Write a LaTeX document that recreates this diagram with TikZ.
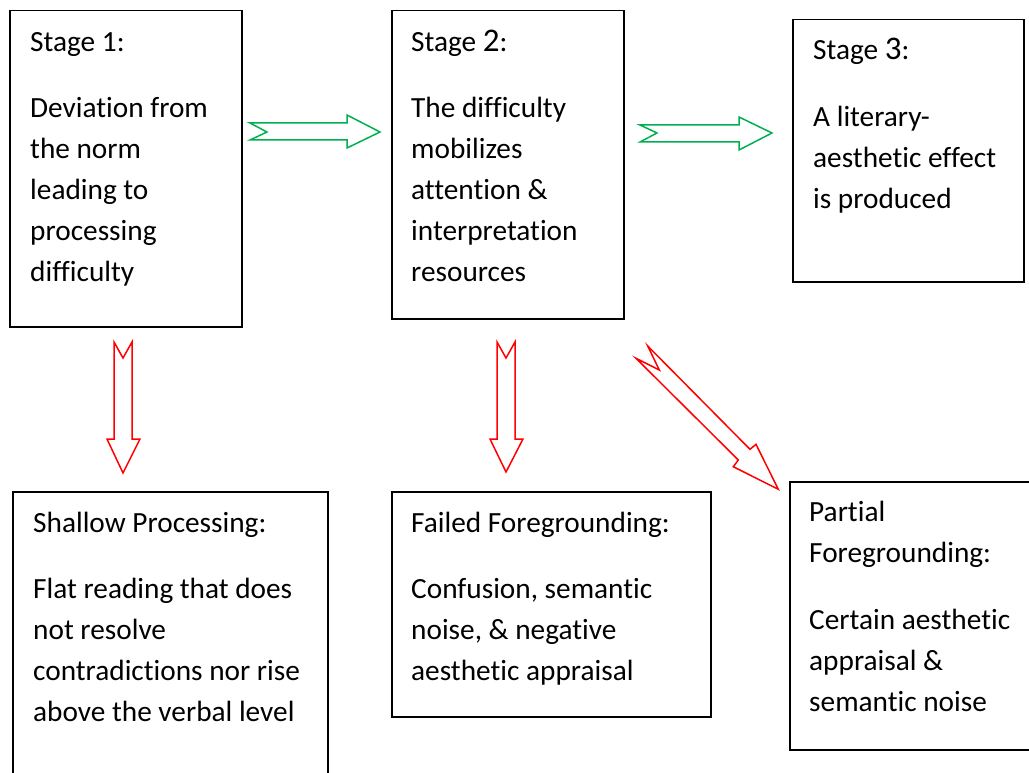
\documentclass[tikz,border=0pt]{standalone}
\usepackage{fontspec}
\setmainfont[Ligatures=NoCommon]{Carlito}
\begin{document}
\begin{tikzpicture}[x=1pt,y=-1pt,
  box/.style={draw=black,line width=1.5pt,anchor=north west,inner sep=0pt},
  txt/.style={anchor=north west,inner sep=0pt,align=left,font=\fontsize{29.3}{41}\selectfont},
  garrow/.style={draw={rgb,255:red,0;green,176;blue,80},line width=1.5pt,line join=miter,fill=white},
  rarrow/.style={draw=red,line width=1.5pt,line join=miter,fill=white}]
\useasboundingbox (0,0) rectangle (1029,773);
\clip (0,0) rectangle (1029,773);
\newcommand{\myst}{\rule{0pt}{24pt}}
\newcommand{\mybig}[1]{{\fontsize{33}{41}\selectfont #1}}
% boxes
\node[box,minimum width=232pt,minimum height=316pt] (b1) at (9,10) {};
\node[box,minimum width=232pt,minimum height=308pt] (b2) at (391,10) {};
\node[box,minimum width=231pt,minimum height=262pt] (b3) at (792,19) {};
\node[box,minimum width=315pt,minimum height=300pt] (b4) at (12,491) {};
\node[box,minimum width=319pt,minimum height=225pt] (b5) at (391,491) {};
\node[box,minimum width=260pt,minimum height=268pt] (b6) at (789,481) {};
% texts
\node[txt] (t1) at (30,27) {\myst Stage 1:\\[25pt]Deviation from\\the norm\\leading to\\processing\\difficulty};
\node[txt] (t2) at (411,27) {\myst Stage \mybig{2}:\\[25pt]The difficulty\\mobilizes\\attention \&\\interpretation\\resources};
\node[txt] (t3) at (813,35) {\myst Stage \mybig{3}:\\[26pt]A literary-\\aesthetic effect\\is produced};
\node[txt] (t4) at (33,508) {\myst Shallow Processing:\\[25pt]Flat reading that does\\not resolve\\contradictions nor rise\\above the verbal level};
\node[txt] (t5) at (411,508) {\myst Failed Foregrounding:\\[25pt]Confusion, semantic\\noise, \& negative\\aesthetic appraisal};
\node[txt] (t6) at (809,497) {\myst Partial\\Foregrounding:\\[26pt]Certain aesthetic\\appraisal \&\\semantic noise};
% green arrows
\draw[garrow] (250,123) -- (347,123) -- (347,115) -- (380,132) -- (347,148) -- (347,140) -- (250,140) -- (267,132) -- cycle;
\draw[garrow] (640,125) -- (739,125) -- (739,117) -- (772,133) -- (739,150) -- (739,142) -- (640,142) -- (657,133) -- cycle;
% red arrows
\draw[rarrow] (114,342) -- (123,358) -- (132,342) -- (132,439) -- (140,439) -- (123,473) -- (107,439) -- (114,439) -- cycle;
\draw[rarrow] (497,342) -- (506,358) -- (515,342) -- (515,439) -- (523,439) -- (506,472) -- (490,439) -- (497,439) -- cycle;
\draw[rarrow] (647.7,346) -- (750,449.3) -- (756,444.3) -- (778.3,489.3) -- (733.3,466.7) -- (738.3,460) -- (636,358.3) -- (659.3,370) -- cycle;
\end{tikzpicture}
\end{document}
